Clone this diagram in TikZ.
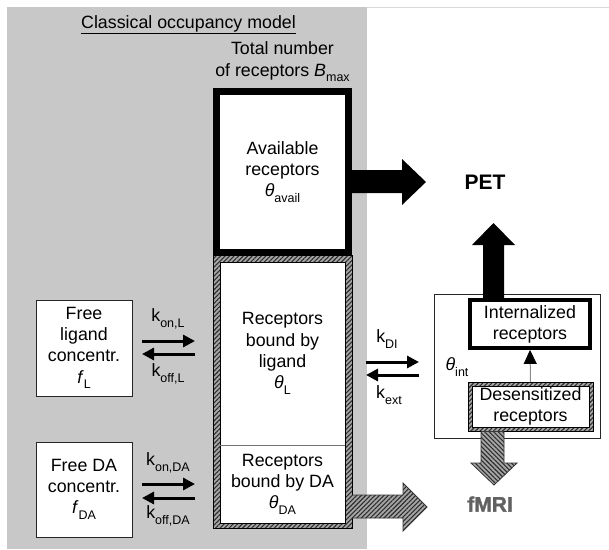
\documentclass[tikz,border=0pt]{standalone}
\usepackage{fontspec}
\setmainfont{Liberation Sans}
\newfontfamily\fmrifont[FakeBold=1.5]{Liberation Sans Bold}
\usetikzlibrary{patterns.meta,arrows.meta}
\definecolor{bggray}{RGB}{200,200,200}
\definecolor{hatchbg}{RGB}{165,165,165}
\definecolor{hatchln}{RGB}{45,45,45}
\newcommand{\lo}[1]{\raisebox{-0.32em}{\fontsize{12.5}{13}\selectfont #1}}
\newcommand{\thet}{\textit{θ}}
\tikzset{
  txt/.style={font=\fontsize{17.8}{21.2}\selectfont, align=center, inner sep=0pt},
  thinbox/.style={draw=black!85, line width=1pt, fill=white},
  hatchfill/.style={pattern={Lines[angle=45,distance=3.2pt,line width=1.1pt]}, pattern color=hatchln},
  hatchfillb/.style={pattern={Lines[angle=-45,distance=3.2pt,line width=1.1pt]}, pattern color=hatchln},
  eqarrow/.style={line width=3pt, -{Triangle[length=12pt,width=12pt]}},
  bigtxt/.style={font=\fontsize{21}{24}\selectfont\bfseries, inner sep=0pt}
}
\begin{document}
\begin{tikzpicture}[x=1pt,y=-1pt]
\useasboundingbox (0,0) rectangle (609,549);
% background panel
\fill[bggray] (7,7) rectangle (367,549);
\draw[black!15, line width=1pt] (367,7.5) -- (609,7.5);

% title
\node[txt] (title) at (188.5,25) {\underline{Classical occupancy model}};
\node[txt] (total) at (282.5,62) {Total number\\of receptors \textit{B}\lo{max}};

% hatched lower frame
\fill[hatchbg, even odd rule] (213,255) rectangle (352,528) (220,262) rectangle (345,523);
\fill[hatchfill, even odd rule] (213,255) rectangle (352,528) (220,262) rectangle (345,523);
\fill[white] (220,262) rectangle (345,523);
\draw[black, line width=0.8pt] (213,255) rectangle (352,528);
\draw[black, line width=0.8pt] (220,262) rectangle (345,523);

% compartments
\node[txt, minimum width=125pt, minimum height=183pt] (lig) at (282.5,353.5)
  {Receptors\\bound by\\ligand\\\thet\lo{L}};
\node[txt, minimum width=125pt, minimum height=78pt] (da) at (282.5,484)
  {Receptors\\bound by DA\\\thet\lo{DA}};
\draw[black!55, line width=1pt] (lig.south west) -- (lig.south east);

% available box
\node[txt, draw=black, fill=white, line width=7pt, minimum width=132pt, minimum height=161pt] (avail) at (282.5,172)
  {Available\\receptors\\\thet\lo{avail}};

% free ligand / DA boxes
\node[txt, thinbox, minimum width=96pt, minimum height=96pt] (freeL) at (84,348)
  {Free\\ligand\\concentr.\\\textit{f}\lo{L}};
\node[txt, thinbox, minimum width=96pt, minimum height=95pt] (freeDA) at (84,489.5)
  {Free DA\\concentr.\\\textit{f}\lo{DA}};

% binding arrows
\coordinate (l1a) at (142,341); \coordinate (l1b) at (195,341);
\coordinate (l2a) at (195,354); \coordinate (l2b) at (142,354);
\draw[eqarrow] (l1a) -- (l1b);
\draw[eqarrow] (l2a) -- (l2b);
\node[txt] (konL) at (168,319) {k\lo{on,L}};
\node[txt] (koffL) at (168,374) {k\lo{off,L}};

\coordinate (d1a) at (142,484); \coordinate (d1b) at (195,484);
\coordinate (d2a) at (195,498); \coordinate (d2b) at (142,498);
\draw[eqarrow] (d1a) -- (d1b);
\draw[eqarrow] (d2a) -- (d2b);
\node[txt] (konDA) at (168,463) {k\lo{on,DA}};
\node[txt] (koffDA) at (168,516) {k\lo{off,DA}};

% internalization arrows
\coordinate (i1a) at (366,362); \coordinate (i1b) at (419,362);
\coordinate (i2a) at (419,375); \coordinate (i2b) at (366,375);
\draw[eqarrow] (i1a) -- (i1b);
\draw[eqarrow] (i2a) -- (i2b);
\node[txt] (kDI) at (387,339) {k\lo{DI}};
\node[txt] (kext) at (389,395) {k\lo{ext}};

% right compartment
\node[thinbox, minimum width=166pt, minimum height=144pt] (intbox) at (517,366) {};
\node[txt] (thint) at (457,367) {\thet\lo{int}};
\node[txt, draw=black, fill=white, line width=3.8pt, minimum width=120pt, minimum height=48pt] (intern) at (530,324)
  {Internalized\\receptors};
% desensitized hatched box
\fill[hatchbg, even odd rule] (468,382) rectangle (593,431) (472,386) rectangle (589,427);
\fill[hatchfill, even odd rule] (468,382) rectangle (593,431) (472,386) rectangle (589,427);
\draw[black, line width=0.8pt] (468,382) rectangle (593,431);
\node[txt, draw=black, fill=white, line width=0.8pt, minimum width=117pt, minimum height=41pt] (desens) at (530.5,406.5)
  {Desensitized\\receptors};
\draw[black!45, line width=1pt, -{Triangle[length=14pt,width=13pt,black]}] (desens.north |- 0,382) -- (intern.south);

% PET arrows (black)
\fill[black] (352,170) -- (402,170) -- (402,159) -- (426,182) -- (402,205) -- (402,193) -- (352,193) -- cycle;
\fill[black] (483,300) -- (483,245) -- (472,245) -- (493.5,223) -- (515,245) -- (504,245) -- (504,300) -- cycle;
\node[bigtxt] (pet) at (485,182) {PET};

% fMRI arrows (hatched)
\fill[hatchbg] (352,495) -- (403,495) -- (403,483) -- (427,507) -- (403,531) -- (403,518) -- (352,518) -- cycle;
\fill[hatchfill] (352,495) -- (403,495) -- (403,483) -- (427,507) -- (403,531) -- (403,518) -- (352,518) -- cycle;
\draw[black!80, line width=0.8pt] (352,495) -- (403,495) -- (403,483) -- (427,507) -- (403,531) -- (403,518) -- (352,518);
\fill[hatchbg] (481,431.5) -- (481,463) -- (471,463) -- (494,485) -- (517,463) -- (504,463) -- (504,431.5) -- cycle;
\fill[hatchfillb] (481,431.5) -- (481,463) -- (471,463) -- (494,485) -- (517,463) -- (504,463) -- (504,431.5) -- cycle;
\draw[black!80, line width=0.8pt] (481,431.5) -- (481,463) -- (471,463) -- (494,485) -- (517,463) -- (504,463) -- (504,431.5);
\node[inner sep=0pt, font=\fontsize{21}{24}\selectfont\fmrifont, text=black!62] (fmri) at (490,504) {fMRI};
\end{tikzpicture}
\end{document}
